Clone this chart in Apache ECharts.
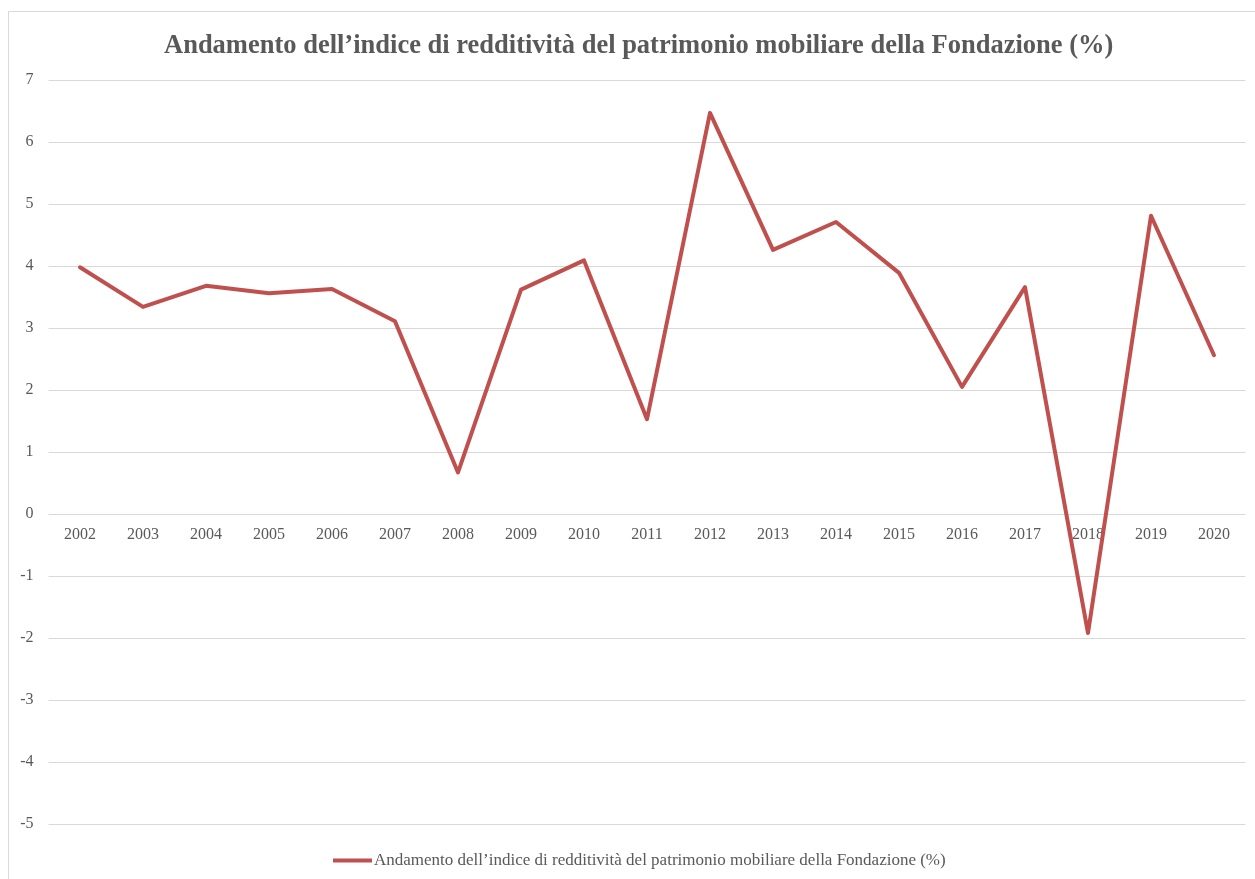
<!DOCTYPE html>
<html>
<head>
<meta charset="utf-8">
<script src="https://cdn.jsdelivr.net/npm/echarts@6/dist/echarts.min.js"></script>
<style>
  html, body { margin: 0; padding: 0; background: #fff; }
  #chart { width: 1255px; height: 879px; }
</style>
</head>
<body>
<div id="chart"></div>
<script>
const titleText = 'Andamento dell\u2019indice di redditività del patrimonio mobiliare della Fondazione (%)';
const years = ['2002', '2003', '2004', '2005', '2006', '2007', '2008', '2009', '2010', '2011',
  '2012', '2013', '2014', '2015', '2016', '2017', '2018', '2019', '2020'];
const rendimento = [3.98, 3.34, 3.68, 3.56, 3.63, 3.11, 0.67, 3.62, 4.09, 1.53,
  6.47, 4.26, 4.71, 3.89, 2.05, 3.66, -1.92, 4.81, 2.56];

const chart = echarts.init(document.getElementById('chart'));
const font = 'Liberation Serif, Times New Roman, serif';

// the category labels sit on the zero line (5 units above the -5 bottom)
const gridTop = 80, gridBottom = 55;
const yMin = -5, yMax = 7;
const plotH = 879 - gridTop - gridBottom;
const zeroOffset = -plotH * (0 - yMin) / (yMax - yMin);

chart.setOption({
  animation: false,
  textStyle: { fontFamily: font },
  graphic: [{
    type: 'rect',
    shape: { x: 8.5, y: 11.5, width: 1400, height: 1000 },
    style: { fill: 'none', stroke: '#d9d9d9', lineWidth: 1 },
    silent: true
  }],
  title: {
    text: titleText,
    left: 159,
    top: 28,
    textStyle: { fontFamily: font, fontSize: 26.5, fontWeight: 'bold', color: '#595959' }
  },
  legend: {
    bottom: 5,
    left: 328,
    itemWidth: 39,
    itemHeight: 4,
    itemGap: 0,
    icon: 'rect',
    textStyle: { fontFamily: font, fontSize: 17, color: '#595959', padding: [0, 0, 0, -3] },
    data: [titleText]
  },
  grid: { left: 48.5, right: 9.5, top: gridTop, bottom: gridBottom },
  xAxis: {
    type: 'category',
    data: years,
    boundaryGap: true,
    offset: zeroOffset,
    axisLine: { show: false, onZero: false },
    axisTick: { show: false },
    axisLabel: { fontFamily: font, fontSize: 16, color: '#595959', margin: 13 }
  },
  yAxis: {
    type: 'value',
    min: yMin,
    max: yMax,
    interval: 1,
    axisLine: { show: false },
    axisTick: { show: false },
    axisLabel: { fontFamily: font, fontSize: 16, color: '#595959', margin: 15 },
    splitLine: { lineStyle: { color: '#d9d9d9', width: 1 } }
  },
  series: [{
    name: titleText,
    type: 'line',
    data: rendimento,
    symbol: 'none',
    lineStyle: { color: '#c0504d', width: 4, join: 'round', cap: 'round' },
    itemStyle: { color: '#c0504d' }
  }]
});
</script>
</body>
</html>
